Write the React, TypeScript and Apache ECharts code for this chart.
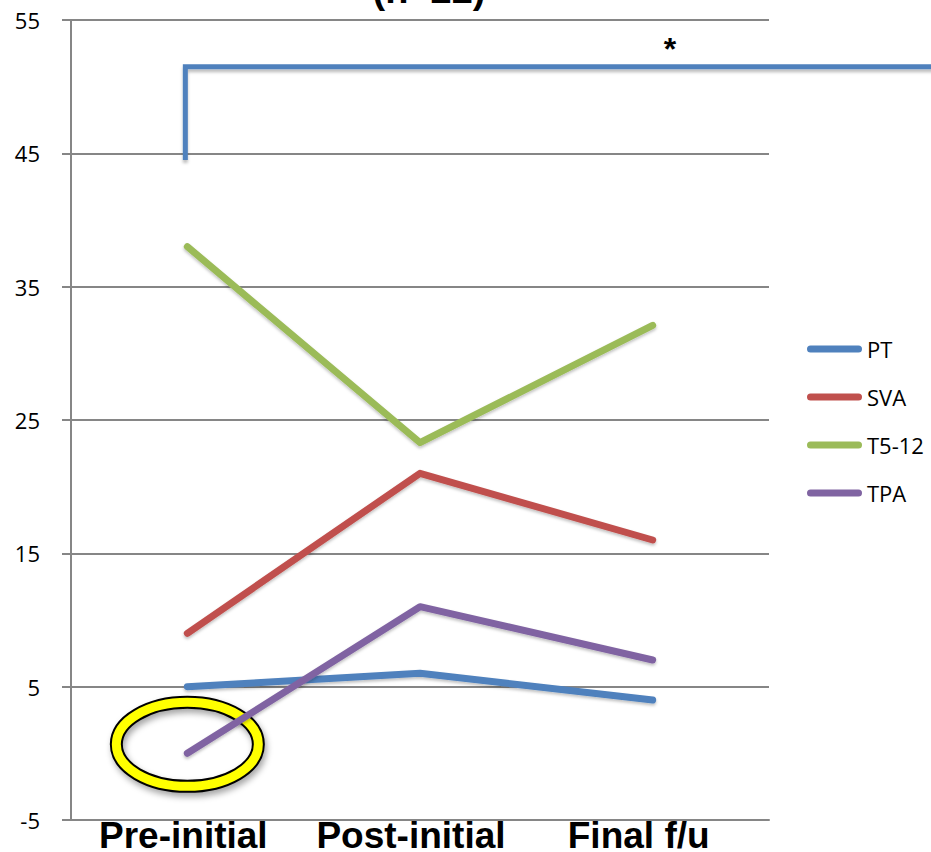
import React, { useEffect, useRef } from "react";
import * as echarts from "echarts";

const categories = ["Pre-initial", "Post-initial", "Final f/u"];
const seriesNames = ["PT", "SVA", "T5-12", "TPA"];
const ptValues = [5, 6, 4];
const svaValues = [9, 21, 16];
const t512Values = [38, 23.3, 32.1];
const tpaValues = [0, 11, 7];
const seriesColors = ["#4f81bd", "#c0504d", "#9bbb59", "#8064a2"];
const yTicks = { min: -5, max: 55, interval: 10 };
const bracketRange = [44.5, 51.5];

const pill = "path://M3.5,0 L51.5,0 A3.5,3.5 0 0 1 51.5,7 L3.5,7 A3.5,3.5 0 0 1 3.5,0 Z";

export default function App() {
  const ref = useRef<HTMLDivElement>(null);
  useEffect(() => {
    if (!ref.current) return;
    const chart = echarts.init(ref.current, undefined, { renderer: "svg" });
    const values = [ptValues, svaValues, t512Values, tpaValues];
    const series = seriesNames.map((name, i) => ({
      name,
      type: "line",
      data: values[i],
      symbol: "none",
      z: 3,
      lineStyle: {
        width: 7,
        color: seriesColors[i],
        cap: "round",
        join: "round",
        shadowColor: "rgba(0,0,0,0.25)",
        shadowBlur: 3,
        shadowOffsetY: 2,
      },
      itemStyle: { color: seriesColors[i] },
    }));
    const labelBase = {
      fontSize: 37,
      fontWeight: "bold",
      color: "#000",
      fontFamily: "Liberation Sans",
    };
    const option: any = {
      animation: false,
      grid: { left: 71, right: 162, top: 20, bottom: 32, containLabel: false, outerBoundsMode: "none" },
      legend: {
        orient: "vertical",
        left: 807,
        top: 338,
        padding: 0,
        itemWidth: 55,
        itemHeight: 7,
        itemGap: 26,
        icon: pill,
        data: seriesNames,
        textStyle: { fontSize: 22, color: "#000", fontFamily: "Open Sans" },
      },
      xAxis: {
        type: "category",
        data: categories,
        boundaryGap: true,
        axisLine: { onZero: false, lineStyle: { color: "#868686", width: 2 } },
        axisTick: { show: false },
        axisLabel: {
          ...labelBase,
          margin: -3,
          interval: 0,
          formatter: (v: string, i: number) => `{c${i}|${v}}`,
          rich: {
            c0: { ...labelBase, padding: [0, 8, 0, 0] },
            c1: { ...labelBase, padding: [0, 18, 0, 0] },
            c2: { ...labelBase, padding: [0, 28, 0, 0] },
          },
        },
      },
      yAxis: {
        type: "value",
        min: yTicks.min,
        max: yTicks.max,
        interval: yTicks.interval,
        axisLine: { show: true, lineStyle: { color: "#868686", width: 2 } },
        axisTick: { show: true, length: 9, lineStyle: { color: "#868686", width: 2 } },
        splitLine: { lineStyle: { color: "#868686", width: 2 } },
        axisLabel: { fontSize: 22, color: "#000", fontFamily: "Open Sans", margin: 31 },
      },
      series,
    };
    chart.setOption(option);

    const p1 = chart.convertToPixel({ gridIndex: 0 }, [0, bracketRange[0]]) as number[];
    const p2 = chart.convertToPixel({ gridIndex: 0 }, [0, bracketRange[1]]) as number[];
    const pt0 = chart.convertToPixel({ gridIndex: 0 }, [0, tpaValues[0]]) as number[];
    chart.setOption({
      graphic: [
        {
          type: "text",
          style: {
            text: "(n=22)",
            x: 429,
            y: -10,
            fontSize: 38,
            fontWeight: "bold",
            fontFamily: "Liberation Sans",
            fill: "#000",
            align: "center",
            verticalAlign: "middle",
          },
        },
        {
          type: "polyline",
          z: 5,
          shape: { points: [[p1[0] - 2, p1[1]], [p2[0] - 2, p2[1]], [940, p2[1]]] },
          style: {
            stroke: "#4f81bd",
            lineWidth: 5,
            fill: "none",
            shadowColor: "rgba(0,0,0,0.25)",
            shadowBlur: 3,
            shadowOffsetY: 3,
          },
        },
        {
          type: "text",
          z: 5,
          style: {
            text: "*",
            x: 670,
            y: 49,
            fontSize: 32,
            fontWeight: "bold",
            fontFamily: "Liberation Sans",
            fill: "#000",
            align: "center",
            verticalAlign: "middle",
          },
        },
        {
          type: "ellipse",
          z: 1,
          shape: { cx: pt0[0], cy: pt0[1] - 9, rx: 71, ry: 42 },
          style: {
            fill: "none",
            stroke: "#000",
            lineWidth: 13,
            shadowColor: "rgba(0,0,0,0.35)",
            shadowBlur: 6,
            shadowOffsetX: 2,
            shadowOffsetY: 4,
          },
        },
        {
          type: "ellipse",
          z: 1,
          shape: { cx: pt0[0], cy: pt0[1] - 9, rx: 71, ry: 42 },
          style: { fill: "none", stroke: "#ffff00", lineWidth: 9 },
        },
      ],
    });
    return () => chart.dispose();
  }, []);
  return <div ref={ref} style={{ width: 931, height: 852, position: "absolute", left: 0, top: 0 }} />;
}
